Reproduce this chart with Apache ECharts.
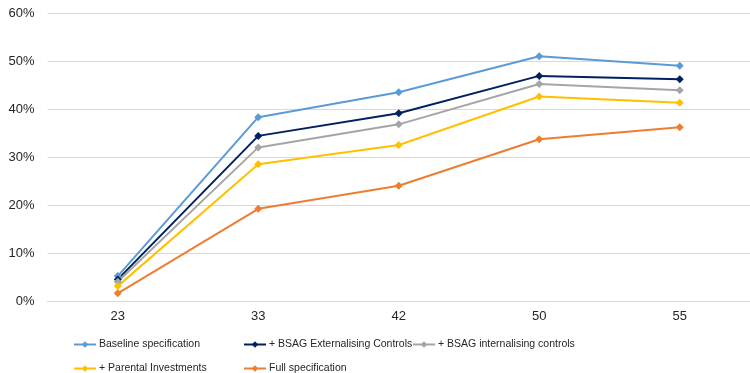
<!DOCTYPE html>
<html>
<head>
<meta charset="utf-8">
<script src="https://cdn.jsdelivr.net/npm/echarts@6/dist/echarts.min.js"></script>
<style>html,body{margin:0;padding:0;background:#fff}#c{width:750px;height:373px}</style>
</head>
<body>
<div id="c"></div>
<script>
var categories = ['23', '33', '42', '50', '55'];
var yTicks = [0, 10, 20, 30, 40, 50, 60];
var seriesNames = ['Baseline specification', '+ BSAG Externalising Controls', '+ BSAG internalising controls', '+ Parental Investments', 'Full specification'];
var baseline = [5.2, 38.3, 43.5, 51.0, 49.0];
var bsagExt = [4.5, 34.4, 39.1, 46.9, 46.2];
var bsagInt = [4.0, 32.0, 36.8, 45.2, 43.9];
var parental = [3.1, 28.5, 32.5, 42.6, 41.3];
var fullSpec = [1.6, 19.2, 24.0, 33.7, 36.2];
var colors = ['#5B9BD5', '#002060', '#A5A5A5', '#FFC000', '#ED7D31'];

var allData = [baseline, bsagExt, bsagInt, parental, fullSpec];
var legendPos = [[73, 339], [243, 339], [412, 339], [73, 363], [243, 363]];

var chart = echarts.init(document.getElementById('c'));
var font = 'Liberation Sans, Arial, sans-serif';
chart.setOption({
  animation: false,
  textStyle: {fontFamily: font},
  grid: {left: 47.5, top: 13, width: 705, height: 288, containLabel: false},
  xAxis: {
    type: 'category', data: categories, boundaryGap: true,
    axisLine: {lineStyle: {color: '#d9d9d9', width: 1}},
    axisTick: {show: false},
    axisLabel: {color: '#262626', fontSize: 13, margin: 9, fontFamily: font}
  },
  yAxis: {
    type: 'value', min: 0, max: 60, interval: 10,
    axisLine: {show: false}, axisTick: {show: false},
    splitLine: {lineStyle: {color: '#d9d9d9', width: 1}},
    axisLabel: {color: '#262626', fontSize: 13, margin: 13, fontFamily: font,
      formatter: function (v) { return v + '%'; }}
  },
  legend: seriesNames.map(function (n, i) {
    return {
      data: [n], left: legendPos[i][0], top: legendPos[i][1],
      padding: 0, itemWidth: 22, itemHeight: 8, itemGap: 0,
      textStyle: {color: '#262626', fontSize: 10.5, fontFamily: font, padding: [0, 0, 0, -2]}
    };
  }),
  series: seriesNames.map(function (n, i) {
    return {
      name: n, type: 'line', data: allData[i],
      symbol: 'diamond', symbolSize: 8, showSymbol: true,
      lineStyle: {color: colors[i], width: 2},
      itemStyle: {color: colors[i]}
    };
  })
});
</script>
</body>
</html>
